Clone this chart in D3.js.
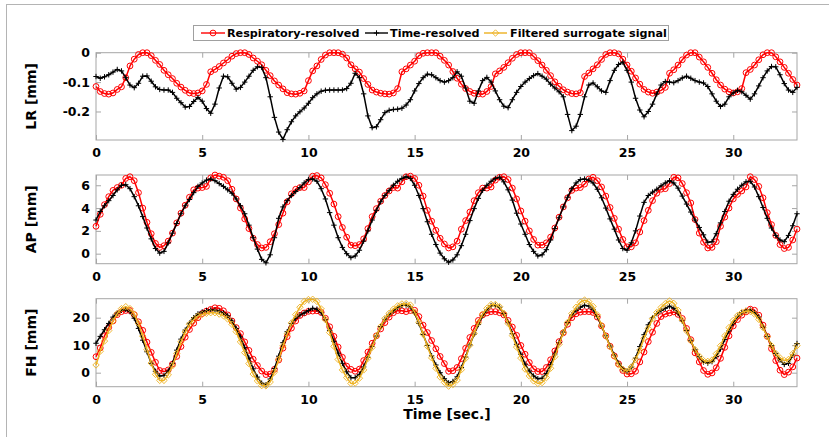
<!DOCTYPE html>
<html><head><meta charset="utf-8">
<script src="https://cdn.jsdelivr.net/npm/d3@7"></script>
<style>
html,body{margin:0;padding:0;background:#fff;}
svg{display:block;font-family:"DejaVu Sans",sans-serif;}
</style></head>
<body><svg id="c" width="829" height="437"></svg>
<script>
// ---- DATA (sampled every 0.2 s, t = 0 ... 33 s) ----
const dt = 0.2;
const seriesNames = ["Respiratory-resolved", "Time-resolved", "Filtered surrogate signal"];
const xTicks = [0, 5, 10, 15, 20, 25, 30];
const lrTicks = [-0.2, -0.1, 0];
const apTicks = [0, 2, 4, 6];
const fhTicks = [0, 10, 20];

const lrTime = [
-0.081,-0.087,-0.082,-0.075,-0.066, -0.057,-0.062,-0.085,-0.11,-0.119,
-0.104,-0.08,-0.079,-0.097,-0.116, -0.125,-0.127,-0.127,-0.135,-0.155,
-0.17,-0.185,-0.183,-0.166,-0.152, -0.165,-0.19,-0.206,-0.175,-0.12,
-0.08,-0.082,-0.104,-0.124,-0.118, -0.1,-0.08,-0.06,-0.048,-0.05,
-0.085,-0.15,-0.22,-0.27,-0.295, -0.262,-0.235,-0.215,-0.201,-0.188,
-0.172,-0.153,-0.14,-0.131,-0.128, -0.127,-0.127,-0.127,-0.127,-0.122,
-0.104,-0.07,-0.085,-0.14,-0.215, -0.255,-0.252,-0.228,-0.204,-0.196,
-0.193,-0.192,-0.189,-0.178,-0.16, -0.13,-0.105,-0.085,-0.073,-0.075,
-0.085,-0.095,-0.1,-0.095,-0.085, -0.065,-0.08,-0.12,-0.165,-0.172,
-0.13,-0.095,-0.084,-0.1,-0.13, -0.16,-0.182,-0.187,-0.16,-0.135,
-0.115,-0.1,-0.088,-0.078,-0.071, -0.08,-0.09,-0.107,-0.12,-0.133,
-0.15,-0.21,-0.265,-0.25,-0.21, -0.15,-0.11,-0.103,-0.116,-0.13,
-0.135,-0.095,-0.06,-0.04,-0.032, -0.06,-0.1,-0.155,-0.195,-0.218,
-0.2,-0.175,-0.14,-0.11,-0.098, -0.1,-0.102,-0.095,-0.086,-0.08,
-0.087,-0.095,-0.1,-0.103,-0.115, -0.14,-0.165,-0.183,-0.175,-0.15,
-0.137,-0.128,-0.133,-0.145,-0.158, -0.14,-0.113,-0.085,-0.062,-0.047,
-0.048,-0.075,-0.105,-0.127,-0.135, -0.118];

const lrResp = [
-0.115,-0.132,-0.139,-0.141,-0.137, -0.125,-0.116,-0.085,-0.045,-0.022,
-0.006,0,0,-0.01,-0.026, -0.04,-0.06,-0.075,-0.088,-0.104,
-0.117,-0.128,-0.137,-0.139,-0.137, -0.13,-0.108,-0.065,-0.057,-0.047,
-0.035,-0.024,-0.012,-0.003,0, 0,-0.006,-0.018,-0.029,-0.041,
-0.06,-0.078,-0.096,-0.11,-0.123, -0.136,-0.14,-0.141,-0.138,-0.13,
-0.095,-0.062,-0.045,-0.023,-0.008, 0,0,0,-0.005,-0.018,
-0.041,-0.055,-0.066,-0.088,-0.108, -0.127,-0.134,-0.138,-0.14,-0.141,
-0.137,-0.122,-0.065,-0.055,-0.042, -0.029,-0.01,-0.002,0,0,
0,-0.012,-0.026,-0.042,-0.064, -0.087,-0.107,-0.122,-0.132,-0.138,
-0.14,-0.141,-0.132,-0.115,-0.072, -0.062,-0.05,-0.034,-0.019,-0.006,
0,0,0,-0.013,-0.027, -0.042,-0.06,-0.078,-0.099,-0.114,
-0.126,-0.134,-0.139,-0.14,-0.136, -0.081,-0.069,-0.055,-0.041,-0.023,
-0.006,0,0,-0.004,-0.022, -0.042,-0.063,-0.086,-0.107,-0.125,
-0.134,-0.138,-0.134,-0.128,-0.118, -0.07,-0.058,-0.042,-0.024,-0.008,
0,0,-0.015,-0.031,-0.05, -0.07,-0.092,-0.11,-0.124,-0.133,
-0.137,-0.133,-0.122,-0.068,-0.057, -0.042,-0.024,-0.007,0,0,
-0.014,-0.031,-0.05,-0.07,-0.091, -0.11];

const apTime = [
2.95,3.7,4.2,4.65,5.1, 5.6,6.0,6.05,5.7,5.0,
4.2,3.25,2.25,1.3,0.45, 0.05,0.2,0.95,1.8,2.65,
3.5,4.2,4.75,5.35,5.9, 6.2,6.45,6.55,6.4,6.15,
5.9,5.6,5.3,4.8,4.2, 3.5,2.5,1.4,0.4,-0.5,
-0.8,-0.1,1.4,3.1,4.1, 4.65,5.1,5.45,5.8,6.2,
6.5,6.55,6.35,5.7,4.8, 3.6,2.5,1.4,0.55,0.0,
-0.35,-0.2,0.3,1.1,2.0, 2.95,3.8,4.55,5.1,5.55,
6.0,6.35,6.6,6.75,6.6, 6.0,5.1,3.95,2.8,1.7,
0.8,0.05,-0.45,-0.75,-0.55, -0.1,0.7,1.7,2.9,3.95,
4.85,5.55,6.0,6.35,6.6, 6.7,6.3,5.6,4.7,3.55,
2.6,1.7,0.8,0.2,-0.2, -0.1,0.35,1.2,2.2,3.15,
4.1,4.95,5.7,6.2,6.5, 6.55,6.45,6.2,5.65,4.9,
4.0,3.05,2.15,1.2,0.45, 0.3,0.95,2.0,3.3,4.5,
5.1,5.4,5.65,5.95,6.2, 6.4,6.2,5.75,5.05,4.35,
3.65,2.95,2.3,1.65,1.0, 1.05,1.75,2.7,3.7,4.6,
5.2,5.65,6.0,6.3,6.35, 5.85,5.0,4.05,3.1,2.25,
1.6,1.2,1.05,1.6,2.45, 3.5];

const apResp = [
2.4,3.45,4.3,5.0,5.55, 5.8,6.0,6.6,6.75,6.4,
5.35,4.0,2.75,1.75,0.9, 0.55,0.7,1.1,1.8,2.7,
3.55,4.25,4.95,5.6,5.75, 5.8,5.9,6.65,6.9,6.8,
6.7,6.4,5.65,4.8,4.0, 3.05,2.2,1.35,0.8,0.5,
0.55,1.05,1.75,2.55,3.55, 4.55,5.25,5.65,5.8,5.8,
6.3,6.8,6.85,6.65,6.05, 5.3,4.35,3.25,2.3,1.45,
0.75,0.7,0.8,1.3,2.2, 3.25,3.95,4.6,5.1,5.5,
5.8,5.75,6.3,6.75,6.8, 6.6,6.0,5.05,3.8,2.85,
2.05,1.35,0.85,0.5,0.6, 1.1,2.15,2.9,3.65,4.65,
5.35,5.75,5.75,5.85,6.45, 6.7,6.75,6.5,5.75,4.8,
3.75,2.85,2.0,1.25,0.75, 0.75,0.95,1.45,2.25,3.2,
4.1,4.9,5.55,5.75,5.8, 6.1,6.55,6.7,6.4,5.85,
5.05,4.05,3.1,2.15,1.25, 0.6,0.6,0.95,1.9,2.9,
3.8,4.65,5.3,5.65,5.7, 6.15,6.7,6.65,6.15,5.35,
4.45,3.0,1.8,1.0,0.5, 0.55,1.05,2.4,3.2,4.0,
4.8,5.2,5.5,5.85,6.75, 6.5,5.9,4.9,3.6,2.55,
1.6,0.8,0.45,0.55,1.2, 2.15];

const fhTime = [
10.7,13.2,15.6,17.9,20.2, 21.7,22.7,23.0,22.2,19.8,
16.1,11.8,7.6,3.4,0.5, -1.2,-1.0,0.6,3.4,8.2,
12.2,15.5,18.0,20.0,21.4, 22.1,22.6,22.8,22.7,22.3,
21.7,20.7,18.8,16.1,13.0, 9.1,5.3,1.4,-1.6,-3.8,
-4.4,-2.3,1.5,6.0,10.9, 14.9,17.9,19.8,21.0,21.7,
22.6,23.4,23.1,21.8,19.2, 15.4,11.4,7.1,3.4,0.3,
-1.8,-1.8,-0.6,2.1,5.6, 9.5,13.3,16.7,19.4,21.2,
22.5,23.7,24.4,24.6,23.9, 21.7,17.9,13.9,9.9,6.1,
2.8,0.0,-2.2,-3.7,-3.2, -1.5,1.9,5.7,10.1,14.0,
17.5,20.7,22.8,24.4,24.5, 23.8,21.5,18.2,14.2,10.3,
6.7,3.1,0.6,-1.2,-2.2, -2.0,-0.3,2.9,6.8,10.9,
14.8,18.2,21.0,22.6,23.8, 24.5,24.2,23.0,20.4,16.9,
13.4,9.7,6.4,3.4,1.4, 0.5,2.0,5.3,9.5,13.8,
17.4,20.0,21.5,22.6,23.4, 24.2,23.4,21.7,18.8,15.3,
11.6,8.3,5.8,3.9,3.5, 4.0,5.9,8.6,12.1,15.2,
18.0,20.5,21.8,22.6,22.8, 21.9,20.2,16.6,13.2,9.8,
7.0,4.6,3.0,3.4,6.4, 10.6];

const fhResp = [
5.8,9.0,13.4,16.5,18.8, 21.1,22.2,22.6,22.6,21.1,
18.5,15.4,11.1,7.4,3.8, 0.8,0.4,1.0,3.1,5.9,
9.5,12.9,15.7,18.0,20.0, 21.5,22.4,23.0,23.6,23.4,
22.5,21.0,18.8,16.4,14.2, 11.2,8.1,4.9,2.6,0.6,
-0.7,-0.5,1.2,4.6,8.9, 13.1,16.2,18.8,20.8,21.7,
22.3,22.4,22.5,21.9,19.8, 16.7,13.2,9.3,5.6,2.4,
1.2,0.5,1.3,4.4,7.5, 10.7,13.4,15.9,18.2,20.2,
21.8,22.6,22.5,22.2,22.6, 22.7,20.4,17.3,14.6,11.7,
8.7,5.9,3.3,0.5,0.7, 1.9,5.1,8.9,12.8,16.1,
19.0,21.0,21.7,22.2,22.2, 21.8,21.0,19.0,16.6,13.6,
9.9,6.7,3.7,1.4,0.4, 0.4,1.9,4.7,7.9,11.3,
14.5,17.6,20.0,21.4,22.0, 22.2,22.2,21.9,20.2,17.0,
13.4,9.6,6.1,3.2,0.8, -0.5,-0.4,0.5,3.9,7.5,
11.3,14.7,17.9,20.4,21.3, 21.7,22.1,21.2,19.7,16.1,
12.0,7.2,3.9,0.8,-0.6, -0.1,1.8,5.2,9.2,13.4,
17.0,19.3,20.9,22.1,23.1, 22.7,20.9,17.3,13.2,8.7,
4.4,0.9,-0.7,0.2,2.1, 5.3];

const fhSurrogate = [
2.8,7.8,11.5,15.3,18.8, 21.5,23.3,24.0,23.3,21.3,
17.9,13.3,8.4,3.5,-0.6, -2.8,-2.8,-0.8,2.5,7.0,
11.2,14.8,17.6,19.3,20.6, 21.2,21.6,21.8,21.8,21.3,
20.7,19.5,17.6,14.9,11.2, 7.3,3.3,-0.5,-3.0,-4.7,
-4.8,-3.4,0.2,4.8,9.7, 14.1,18.1,21.1,23.8,25.9,
26.6,26.7,25.9,23.2,19.3, 14.6,9.6,4.8,1.0,-1.8,
-3.9,-3.8,-2.0,1.0,5.2, 9.2,13.4,16.8,19.7,21.6,
23.1,24.3,25.0,25.1,24.6, 22.0,18.4,14.0,9.6,5.4,
1.6,-1.6,-3.5,-4.9,-4.3, -2.7,1.1,5.2,10.0,14.3,
18.1,21.3,23.4,24.8,24.8, 24.0,21.6,17.9,13.5,9.3,
5.3,1.3,-1.2,-3.0,-3.9, -3.6,-1.8,1.6,5.8,10.3,
14.6,18.3,21.5,23.8,25.6, 26.4,25.8,24.1,21.0,17.2,
13.3,9.4,5.9,2.8,1.2, 0.5,2.1,4.8,8.2,12.5,
16.1,19.6,21.9,23.7,25.1, 26.1,25.2,22.7,19.1,15.2,
11.6,8.4,6.0,4.4,4.1, 4.6,6.9,9.8,13.4,16.4,
19.0,20.8,21.9,22.4,22.3, 21.3,19.4,16.4,13.1,9.8,
7.0,5.4,4.4,4.8,6.9, 9.8];

// ---- LAYOUT ----
const svg = d3.select("#c");
const X0 = 96, X1 = 797;
const x = d3.scaleLinear().domain([0, 33]).range([X0, X1]);
const colors = {resp: "#ff0000", time: "#000000", sur: "#EDB120"};

// outer frame
svg.append("rect").attr("x", 6.5).attr("y", 4.5).attr("width", 840).attr("height", 460)
  .attr("fill", "none").attr("stroke", "#b4b4b4").attr("stroke-width", 1);

const panels = [
  {label: "LR [mm]", top: 52.7, bottom: 140, dom: [-0.297, 0], ticks: lrTicks,
   series: [{v: lrResp, k: "resp"}, {v: lrTime, k: "time"}]},
  {label: "AP [mm]", top: 175, bottom: 263.7, dom: [-0.88, 6.9], ticks: apTicks,
   series: [{v: apResp, k: "resp"}, {v: apTime, k: "time"}]},
  {label: "FH [mm]", top: 298.7, bottom: 386.7, dom: [-5.1, 26.9], ticks: fhTicks,
   series: [{v: fhResp, k: "resp"}, {v: fhTime, k: "time"}, {v: fhSurrogate, k: "sur"}]}
];

const fmt = d => d === 0 ? "0" : String(d);
const boxColor = "#a6a6a6";

function drawMarkers(g, pts, k) {
  if (k === "resp") {
    g.selectAll("circle").data(pts).join("circle")
      .attr("cx", d => d[0]).attr("cy", d => d[1]).attr("r", 2.9)
      .attr("fill", "none").attr("stroke", colors.resp).attr("stroke-width", 1);
  } else if (k === "time") {
    g.selectAll("path").data(pts).join("path")
      .attr("d", d => `M${d[0]-2.7},${d[1]}H${d[0]+2.7}M${d[0]},${d[1]-2.7}V${d[1]+2.7}`)
      .attr("stroke", colors.time).attr("stroke-width", 1);
  } else {
    g.selectAll("path").data(pts).join("path")
      .attr("d", d => `M${d[0]},${d[1]-3.2}L${d[0]+3.2},${d[1]}L${d[0]},${d[1]+3.2}L${d[0]-3.2},${d[1]}Z`)
      .attr("fill", "none").attr("stroke", colors.sur).attr("stroke-width", 0.9);
  }
}

panels.forEach((p, pi) => {
  const y = d3.scaleLinear().domain(p.dom).range([p.bottom, p.top]);
  const g = svg.append("g");
  g.append("rect").attr("x", X0).attr("y", p.top).attr("width", X1 - X0).attr("height", p.bottom - p.top)
    .attr("fill", "#fff");

  // axes with inward ticks
  const ax = d3.axisBottom(x).tickValues(xTicks).tickSize(-5).tickPadding(8).tickFormat(d3.format("d"));
  const gx = g.append("g").attr("transform", `translate(0,${p.bottom})`).call(ax);
  const axT = d3.axisTop(x).tickValues(xTicks).tickSize(-5).tickFormat("");
  const gxt = g.append("g").attr("transform", `translate(0,${p.top})`).call(axT);
  const ay = d3.axisLeft(y).tickValues(p.ticks).tickSize(-5).tickPadding(6).tickFormat(fmt);
  const gy = g.append("g").attr("transform", `translate(${X0},0)`).call(ay);
  const ayR = d3.axisRight(y).tickValues(p.ticks).tickSize(-5).tickFormat("");
  const gyr = g.append("g").attr("transform", `translate(${X1},0)`).call(ayR);
  [gx, gxt, gy, gyr].forEach(a => {
    a.select(".domain").remove();
    a.selectAll(".tick line").attr("stroke", boxColor);
    a.selectAll("text").attr("fill", "#000").attr("font-size", "12.5px").attr("font-weight", "bold")
      .attr("font-family", "DejaVu Sans, sans-serif");
  });
  g.append("rect").attr("x", X0).attr("y", p.top).attr("width", X1 - X0).attr("height", p.bottom - p.top)
    .attr("fill", "none").attr("stroke", boxColor).attr("stroke-width", 1);

  // y label
  g.append("text").attr("transform", `translate(36,${(p.top + p.bottom) / 2}) rotate(-90)`)
    .attr("text-anchor", "middle").attr("font-size", "14px").attr("font-weight", "bold")
    .text(p.label);

  // series
  p.series.forEach(s => {
    const pts = s.v.map((v, i) => [x(i * dt), y(v)]);
    g.append("path").datum(pts).attr("d", d3.line())
      .attr("fill", "none").attr("stroke", colors[s.k]).attr("stroke-width", 1.5)
      .attr("stroke-linejoin", "round");
    drawMarkers(g.append("g"), pts, s.k);
  });
});

// x label
svg.append("text").attr("x", 447).attr("y", 418.5).attr("text-anchor", "middle")
  .attr("font-size", "14px").attr("font-weight", "bold").text("Time [sec.]");

// legend
const lg = svg.append("g");
lg.append("rect").attr("x", 193.5).attr("y", 25.5).attr("width", 475).attr("height", 15)
  .attr("fill", "#fff").attr("stroke", "#a0a0a0").attr("stroke-width", 1);
const legItems = [
  {k: "resp", x0: 201, x1: 225, tx: 227},
  {k: "time", x0: 365, x1: 388, tx: 390},
  {k: "sur", x0: 484, x1: 507, tx: 510}
];
legItems.forEach((it, i) => {
  const cy = 33;
  lg.append("line").attr("x1", it.x0).attr("x2", it.x1).attr("y1", cy).attr("y2", cy)
    .attr("stroke", colors[it.k]).attr("stroke-width", 1.4);
  drawMarkers(lg.append("g"), [[(it.x0 + it.x1) / 2, cy]], it.k);
  lg.append("text").attr("x", it.tx).attr("y", 37).attr("font-size", "11.2px").attr("font-weight", "bold")
    .text(seriesNames[i]);
});
</script></body></html>
